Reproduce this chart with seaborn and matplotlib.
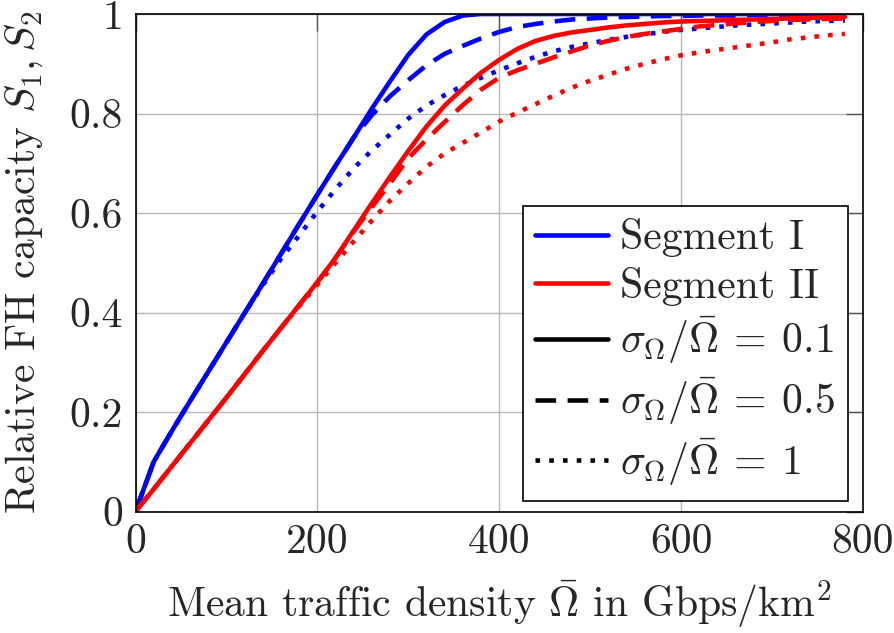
import pandas as pd
import seaborn as sns
import matplotlib.pyplot as plt
from matplotlib.lines import Line2D

# x axis: mean traffic density (Gbps/km^2)
traffic = list(range(0, 800, 20))

# Segment I, sigma/mean = 0.1, 0.5, 1
seg1_s01 = [0, 0.1, 0.162, 0.222, 0.281, 0.34, 0.399, 0.458, 0.518, 0.578,
            0.637, 0.695, 0.752, 0.81, 0.865, 0.918, 0.959, 0.984, 0.997, 1.0,
            1.0, 1.0, 1.0, 1.0, 1.0, 1.0, 1.0, 1.0, 1.0, 1.0,
            1.0, 1.0, 1.0, 1.0, 1.0, 1.0, 1.0, 1.0, 1.0, 1.0]
seg1_s05 = [0, 0.1, 0.162, 0.222, 0.281, 0.34, 0.399, 0.458, 0.518, 0.578,
            0.637, 0.695, 0.752, 0.797, 0.835, 0.867, 0.897, 0.92, 0.936, 0.951,
            0.964, 0.974, 0.98, 0.985, 0.989, 0.991, 0.993, 0.994, 0.995, 0.996,
            0.996, 0.997, 0.997, 0.997, 0.998, 0.998, 0.998, 0.998, 0.998, 0.998]
seg1_s1 = [0, 0.1, 0.162, 0.222, 0.281, 0.34, 0.399, 0.455, 0.508, 0.555,
           0.603, 0.648, 0.69, 0.726, 0.758, 0.79, 0.816, 0.837, 0.856, 0.872,
           0.887, 0.901, 0.914, 0.925, 0.934, 0.941, 0.948, 0.954, 0.959, 0.964,
           0.968, 0.971, 0.974, 0.977, 0.979, 0.981, 0.983, 0.985, 0.986, 0.987]

# Segment II
seg2_s01 = [0, 0.045, 0.091, 0.137, 0.183, 0.229, 0.276, 0.323, 0.369, 0.415,
            0.461, 0.51, 0.565, 0.62, 0.673, 0.725, 0.774, 0.816, 0.85, 0.882,
            0.908, 0.93, 0.946, 0.956, 0.963, 0.968, 0.973, 0.977, 0.98, 0.983,
            0.985, 0.986, 0.987, 0.988, 0.989, 0.99, 0.991, 0.992, 0.993, 0.994]
seg2_s05 = [0, 0.045, 0.091, 0.137, 0.183, 0.229, 0.276, 0.323, 0.369, 0.415,
            0.461, 0.51, 0.563, 0.612, 0.66, 0.71, 0.748, 0.783, 0.817, 0.848,
            0.872, 0.887, 0.9, 0.913, 0.925, 0.937, 0.946, 0.954, 0.96, 0.965,
            0.97, 0.975, 0.978, 0.981, 0.984, 0.986, 0.988, 0.989, 0.99, 0.991]
seg2_s1 = [0, 0.045, 0.091, 0.137, 0.183, 0.229, 0.276, 0.323, 0.369, 0.413,
           0.456, 0.5, 0.543, 0.585, 0.625, 0.66, 0.693, 0.72, 0.741, 0.762,
           0.784, 0.802, 0.819, 0.836, 0.852, 0.866, 0.878, 0.89, 0.9, 0.909,
           0.917, 0.923, 0.928, 0.933, 0.938, 0.943, 0.949, 0.953, 0.957, 0.96]

segments = ['Segment I', 'Segment II']
sigmas = ['0.1', '0.5', '1']
y_ticks = [0, 0.2, 0.4, 0.6, 0.8, 1]
y_tick_labels = ['0', '0.2', '0.4', '0.6', '0.8', '1']
x_ticks = [0, 200, 400, 600, 800]

series = {
    ('Segment I', '0.1'): seg1_s01, ('Segment I', '0.5'): seg1_s05, ('Segment I', '1'): seg1_s1,
    ('Segment II', '0.1'): seg2_s01, ('Segment II', '0.5'): seg2_s05, ('Segment II', '1'): seg2_s1,
}
frames = []
for (seg, sig), vals in series.items():
    frames.append(pd.DataFrame({'traffic': traffic, 'S': vals, 'segment': seg, 'sigma': sig}))
df = pd.concat(frames, ignore_index=True)

sns.set_style('white')
plt.rcParams['font.family'] = ['cmr10', 'DejaVu Serif']
plt.rcParams['mathtext.fontset'] = 'cm'
plt.rcParams['axes.unicode_minus'] = False
plt.rcParams['axes.formatter.use_mathtext'] = True

fs = 30
lw = 3.3
palette = {'Segment I': '#0000ff', 'Segment II': '#ff0000'}
dashes = {'0.1': '', '0.5': (4.5, 2.5), '1': (1.0, 2.0)}

fig = plt.figure(figsize=(8.94, 6.33), dpi=100)
ax = fig.add_axes([135.5 / 894, 1 - 511.5 / 633, 727.5 / 894, 497.5 / 633])

sns.lineplot(data=df, x='traffic', y='S', hue='segment', style='sigma',
             palette=palette, dashes=dashes, estimator=None, sort=False,
             linewidth=lw, legend=False, ax=ax)

ax.set_xlim(0, 800)
ax.set_ylim(0, 1)
ax.set_xticks(x_ticks)
ax.set_xticklabels([str(t) for t in x_ticks])
ax.set_yticks(y_ticks)
ax.set_yticklabels(y_tick_labels)
ax.grid(True, color='#b8b8b8', linewidth=1.0)
ax.set_axisbelow(True)
ax.tick_params(direction='in', length=12, width=1.0, color='#555555',
               labelsize=fs, pad=9, top=True, right=True)
for sp in ax.spines.values():
    sp.set_color('black')
    sp.set_linewidth(1.2)

ax.set_xlabel(r'Mean traffic density $\bar{\Omega}$ in Gbps/km$^2$', fontsize=fs, labelpad=12)
ax.set_ylabel(r'Relative FH capacity $S_1, S_2$', fontsize=fs, labelpad=18)

handles = [
    Line2D([], [], color='#0000ff', lw=lw),
    Line2D([], [], color='#ff0000', lw=lw),
    Line2D([], [], color='black', lw=lw),
    Line2D([], [], color='black', lw=lw, dashes=(4.5, 2.5)),
    Line2D([], [], color='black', lw=lw, dashes=(1.0, 2.0)),
]
labels = ['Segment I', 'Segment II',
          r'$\sigma_\Omega/\bar{\Omega}\:=\:0.1$',
          r'$\sigma_\Omega/\bar{\Omega}\:=\:0.5$',
          r'$\sigma_\Omega/\bar{\Omega}\:=\:1$']
leg = ax.legend(handles, labels, loc='lower right', bbox_to_anchor=(0.979, 0.022),
                borderaxespad=0, fontsize=fs, frameon=True, fancybox=False,
                framealpha=1, edgecolor='black', handlelength=1.75,
                handletextpad=0.3, labelspacing=0.22, borderpad=0.3)
leg.get_frame().set_linewidth(1.2)

fig.savefig('out.png', dpi=100)
